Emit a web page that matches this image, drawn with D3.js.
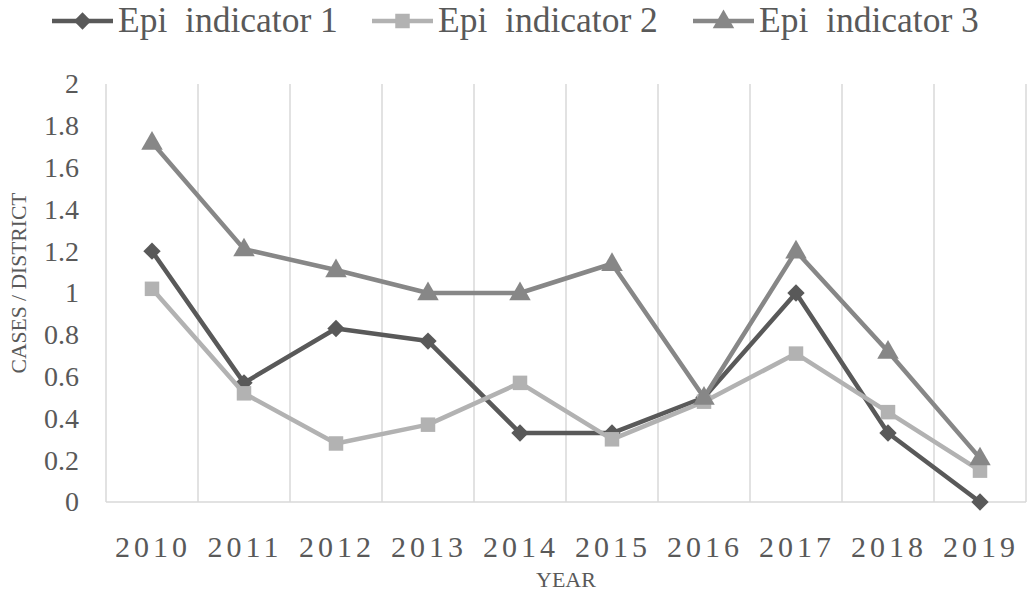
<!DOCTYPE html>
<html>
<head>
<meta charset="utf-8">
<script src="https://cdn.jsdelivr.net/npm/d3@7/dist/d3.min.js"></script>
<style>
  html, body { margin: 0; padding: 0; background: #fff; }
  svg { display: block; }
  text { font-family: "Liberation Serif", "Times New Roman", serif; fill: #595959; }
</style>
</head>
<body>
<svg id="chart" width="1028" height="592"></svg>
<script>
const categories = ["2010","2011","2012","2013","2014","2015","2016","2017","2018","2019"];
const seriesNames = ["Epi  indicator 1", "Epi  indicator 2", "Epi  indicator 3"];
const indicator1 = [1.2, 0.57, 0.83, 0.77, 0.33, 0.33, 0.5, 1.0, 0.33, 0.0];
const indicator2 = [1.02, 0.52, 0.28, 0.37, 0.57, 0.3, 0.48, 0.71, 0.43, 0.15];
const indicator3 = [1.72, 1.21, 1.11, 1.0, 1.0, 1.14, 0.5, 1.2, 0.72, 0.21];
const yTicks = [0, 0.2, 0.4, 0.6, 0.8, 1, 1.2, 1.4, 1.6, 1.8, 2];

const colors = ["#595959", "#b2b2b2", "#878787"];
const symbols = [d3.symbolSquare, d3.symbolSquare, d3.symbolTriangle];
const symRot = [45, 0, 0];

const svg = d3.select("#chart");
const margin = {left: 106, right: 2, top: 84, bottom: 90};
const W = 1028, H = 592;
const x0 = margin.left, x1 = W - margin.right;
const y0 = H - margin.bottom, y1 = margin.top;

const x = d3.scaleBand().domain(categories).range([x0, x1]);
const y = d3.scaleLinear().domain([0, 2]).range([y0, y1]);

// vertical gridlines at category boundaries
const g = svg.append("g");
const bounds = categories.map(c => x(c)).concat([x1]);
g.selectAll("line.vg").data(bounds).join("line")
  .attr("x1", d => d).attr("x2", d => d)
  .attr("y1", y1).attr("y2", y0)
  .attr("stroke", "#d9d9d9").attr("stroke-width", 1.5);
g.append("line").attr("x1", x0).attr("x2", x1).attr("y1", y0).attr("y2", y0)
  .attr("stroke", "#d9d9d9").attr("stroke-width", 1.5);

// y axis labels
const yAxis = d3.axisLeft(y).tickValues(yTicks).tickSize(0).tickPadding(0)
  .tickFormat(d => d3.format("~g")(d));
const ya = svg.append("g").attr("transform", `translate(79,0)`).call(yAxis);
ya.select(".domain").remove();
ya.selectAll("text").attr("font-size", 28).attr("fill", "#595959")
  .style("font-family", '"Liberation Serif", serif');

// x axis labels
const xAxis = d3.axisBottom(x).tickSize(0).tickPadding(0);
const xa = svg.append("g").attr("transform", `translate(0,${y0})`).call(xAxis);
xa.select(".domain").remove();
xa.selectAll("text").attr("font-size", 30).attr("fill", "#595959")
  .attr("dy", null).attr("y", 55)
  .style("letter-spacing", "4px")
  .style("font-family", '"Liberation Serif", serif')
  .attr("dx", 1);

// axis titles
svg.append("text").attr("x", (x0 + x1) / 2).attr("y", 587)
  .attr("text-anchor", "middle").attr("font-size", 22).text("YEAR");
svg.append("text").attr("transform", "translate(26,283) rotate(-90)")
  .attr("text-anchor", "middle").attr("font-size", 22)
  .attr("textLength", 181).attr("lengthAdjust", "spacingAndGlyphs")
  .text("CASES / DISTRICT");

// series
const data = [indicator1, indicator2, indicator3];
const line = d3.line().x((d, i) => x(categories[i]) + x.bandwidth() / 2).y(d => y(d));
const symSizes = [150, 210, 200];

data.forEach((vals, si) => {
  svg.append("path").datum(vals).attr("d", line)
    .attr("fill", "none").attr("stroke", colors[si]).attr("stroke-width", 4.5)
    .attr("stroke-linejoin", "round");
  svg.selectAll(null).data(vals).join("path")
    .attr("transform", (d, i) => `translate(${x(categories[i]) + x.bandwidth() / 2},${y(d) + (si === 2 ? 1 : 0)}) rotate(${symRot[si]})`)
    .attr("d", d3.symbol().type(symbols[si]).size(symSizes[si]))
    .attr("fill", colors[si]);
});

// legend
const legendX = [52, 372, 693];
seriesNames.forEach((name, si) => {
  const lg = svg.append("g").attr("transform", `translate(${legendX[si]},21)`);
  lg.append("line").attr("x1", 0).attr("x2", 61).attr("y1", 0).attr("y2", 0)
    .attr("stroke", colors[si]).attr("stroke-width", 4.5);
  lg.append("path").attr("transform", `translate(30.5,${si === 2 ? 1 : 0}) rotate(${symRot[si]})`)
    .attr("d", d3.symbol().type(symbols[si]).size(symSizes[si]))
    .attr("fill", colors[si]);
  lg.append("text").attr("x", 66).attr("y", 11).attr("font-size", 35.5)
    .style("white-space", "pre").attr("xml:space", "preserve").text(name);
});
</script>
</body>
</html>
